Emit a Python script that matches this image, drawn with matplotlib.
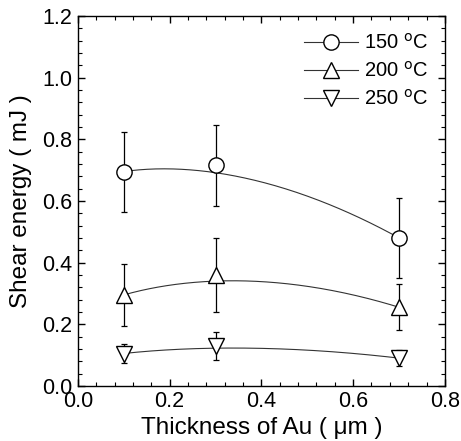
import numpy as np
import matplotlib
matplotlib.use("Agg")
import matplotlib.pyplot as plt
from matplotlib.ticker import MultipleLocator, AutoMinorLocator

plt.rcParams['font.family'] = ['Liberation Sans', 'DejaVu Sans']

thickness = [0.1, 0.3, 0.7]
labels = ['150 $^{\\mathrm{o}}$C', '200 $^{\\mathrm{o}}$C', '250 $^{\\mathrm{o}}$C']
markers = ['o', '^', 'v']
energy_150 = [0.695, 0.715, 0.48]
energy_200 = [0.295, 0.36, 0.255]
energy_250 = [0.105, 0.13, 0.09]
err_150 = [0.13, 0.13, 0.13]
err_200 = [0.10, 0.12, 0.075]
err_250 = [0.03, 0.045, 0.025]


def smooth(x, y, n=200):
    # blend of quadratic interpolant and quadratic bezier (smoothed curve)
    x = np.asarray(x)
    y = np.asarray(y)
    t = np.linspace(0, 1, n)
    bx = (1 - t) ** 2 * x[0] + 2 * t * (1 - t) * x[1] + t ** 2 * x[2]
    by = (1 - t) ** 2 * y[0] + 2 * t * (1 - t) * y[1] + t ** 2 * y[2]
    poly = np.polyfit(x, y, 2)
    return bx, 0.5 * by + 0.5 * np.polyval(poly, bx)


fig = plt.figure(figsize=(4.61, 4.41), dpi=100)
ax = fig.add_axes([0.169, 0.125, 0.796, 0.839])

series = [(energy_150, err_150), (energy_200, err_200), (energy_250, err_250)]
for (y, e), lab, m in zip(series, labels, markers):
    cx, cy = smooth(thickness, y)
    ax.plot(cx, cy, color='#333333', lw=0.8, zorder=2)
    ax.errorbar(thickness, y, yerr=e, fmt='none', ecolor='black', elinewidth=0.9,
                capsize=2.5, capthick=0.9, zorder=1)
    ax.plot(thickness, y, linestyle='none', marker=m, markersize=11, mfc='white',
            mec='black', mew=1.0, zorder=3)
    ax.plot([], [], color='#333333', lw=0.8, marker=m, markersize=11, mfc='white',
            mec='black', mew=1.0, label=lab)

ax.set_xlim(0.0, 0.8)
ax.set_ylim(0.0, 1.2)
ax.xaxis.set_major_locator(MultipleLocator(0.2))
ax.yaxis.set_major_locator(MultipleLocator(0.2))
ax.xaxis.set_minor_locator(AutoMinorLocator(5))
ax.yaxis.set_minor_locator(AutoMinorLocator(5))
ax.tick_params(which='both', direction='in', top=True, right=True, labelsize=15.5)
ax.tick_params(which='major', length=5, width=1, pad=4)
ax.tick_params(which='minor', length=3, width=0.8)
for s in ax.spines.values():
    s.set_linewidth(1.0)

ax.set_xlabel('Thickness of Au ( \u03bcm )', fontsize=17.5, labelpad=3)
ax.set_ylabel('Shear energy ( mJ )', fontsize=17.5, labelpad=7)

ax.legend(loc='upper right', frameon=False, fontsize=14.5, handlelength=2.7,
          handletextpad=0.25, labelspacing=0.4, borderaxespad=0.45)

plt.savefig('out.png', dpi=100)
